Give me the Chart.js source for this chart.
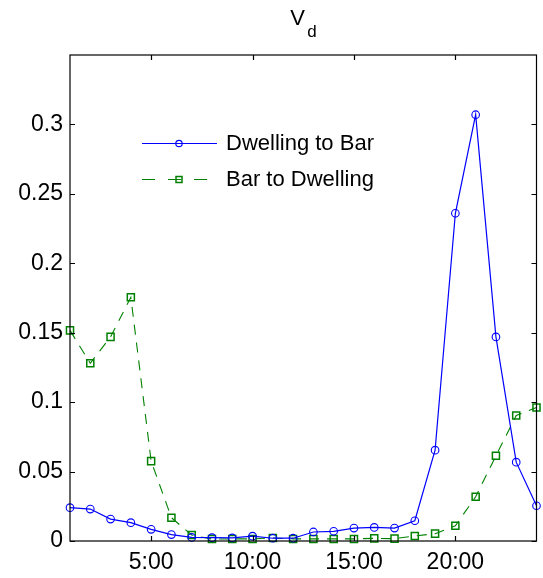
<!DOCTYPE html>
<html>
<head>
<meta charset="utf-8">
<script src="https://cdn.jsdelivr.net/npm/chart.js@4/dist/chart.umd.min.js"></script>
<style>
html,body{margin:0;padding:0;background:#fff;}
#wrap{width:543px;height:578px;position:relative;}
</style>
</head>
<body>
<div id="wrap"><canvas id="c" width="543" height="578"></canvas></div>
<script>
const hours = [1,2,3,4,5,6,7,8,9,10,11,12,13,14,15,16,17,18,19,20,21,22,23,24];
const dwellingToBar = [0.024,0.023,0.0158,0.0132,0.0084,0.0046,0.0026,0.0024,0.0022,0.0035,0.002,0.002,0.0065,0.007,0.0093,0.0098,0.0093,0.0146,0.0654,0.236,0.307,0.147,0.0568,0.0254];
const barToDwelling = [0.1517,0.128,0.147,0.1755,0.0575,0.0168,0.0043,0.0014,0.0015,0.0015,0.0022,0.0015,0.0015,0.0015,0.0015,0.0019,0.0017,0.0036,0.0053,0.011,0.0319,0.0614,0.0904,0.0962];
const xTicks = [5,10,15,20];
const yTicks = [0,0.05,0.1,0.15,0.2,0.25,0.3];
const seriesNames = ['Dwelling to Bar','Bar to Dwelling'];
const titleMain = 'V';
const titleSub = 'd';

const FONT = '"Liberation Sans", Arial, sans-serif';
const BLUE = '#0000ff';
const GREEN = '#008000';

const boxPlugin = {
  id: 'boxPlugin',
  afterDraw(chart) {
    const ctx = chart.ctx;
    const a = chart.chartArea;
    const xs = chart.scales.x, ys = chart.scales.y;
    ctx.save();
    ctx.strokeStyle = '#000';
    ctx.lineWidth = 1.2;
    ctx.strokeRect(a.left, a.top, a.right - a.left, a.bottom - a.top);
    ctx.lineWidth = 1.2;
    const tl = 5;
    ctx.beginPath();
    xs.ticks.forEach(t => {
      const px = Math.round(xs.getPixelForValue(t.value)) + 0.5;
      ctx.moveTo(px, a.bottom); ctx.lineTo(px, a.bottom - tl);
      ctx.moveTo(px, a.top); ctx.lineTo(px, a.top + tl);
    });
    ys.ticks.forEach(t => {
      const py = Math.round(ys.getPixelForValue(t.value)) + 0.5;
      ctx.moveTo(a.left, py); ctx.lineTo(a.left + tl, py);
      ctx.moveTo(a.right, py); ctx.lineTo(a.right - tl, py);
    });
    ctx.stroke();

    // title
    ctx.fillStyle = '#000';
    ctx.textBaseline = 'alphabetic';
    ctx.textAlign = 'left';
    ctx.font = '22px ' + FONT;
    const cx = (a.left + a.right) / 2;
    ctx.fillText(titleMain, cx - 13, 25);
    ctx.font = '17px ' + FONT;
    ctx.fillText(titleSub, cx + 4, 37);

    // legend
    const rows = [
      {y: 143, color: BLUE, dash: [], style: 'circle', label: seriesNames[0]},
      {y: 179, color: GREEN, dash: [13, 13], style: 'rect', label: seriesNames[1]}
    ];
    rows.forEach(r => {
      ctx.strokeStyle = r.color;
      ctx.lineWidth = 1.2;
      ctx.setLineDash(r.dash);
      ctx.beginPath();
      ctx.moveTo(142, r.y + 0.5); ctx.lineTo(217, r.y + 0.5);
      ctx.stroke();
      ctx.setLineDash([]);
      ctx.beginPath();
      if (r.style === 'circle') {
        ctx.fillStyle = '#fff';
        ctx.arc(179, r.y + 0.5, 3.2, 0, Math.PI * 2);
        ctx.stroke();
      } else {
        ctx.lineWidth = 1.5;
        ctx.strokeRect(176, r.y - 2.5, 6, 6);
      }
      ctx.fillStyle = '#000';
      ctx.font = '22px ' + FONT;
      ctx.textBaseline = 'middle';
      ctx.fillText(r.label, 226, r.y + 1);
    });
    ctx.restore();
  }
};

new Chart(document.getElementById('c'), {
  type: 'line',
  data: {
    datasets: [
      {
        label: seriesNames[0],
        data: hours.map((h, i) => ({x: h, y: dwellingToBar[i]})),
        borderColor: BLUE,
        borderWidth: 1.2,
        pointStyle: 'circle',
        pointRadius: 3.8,
        pointBorderColor: BLUE,
        pointBorderWidth: 1.1,
        pointBackgroundColor: 'rgba(0,0,0,0)',
        tension: 0,
        clip: false,
        order: 1
      },
      {
        label: seriesNames[1],
        data: hours.map((h, i) => ({x: h, y: barToDwelling[i]})),
        borderColor: GREEN,
        borderWidth: 1.1,
        borderDash: [10, 8],
        pointStyle: 'rect',
        pointRadius: 5,
        pointBorderColor: GREEN,
        pointBorderWidth: 1.5,
        pointBackgroundColor: 'rgba(0,0,0,0)',
        tension: 0,
        clip: false,
        order: 2
      }
    ]
  },
  options: {
    responsive: false,
    animation: false,
    devicePixelRatio: 1,
    layout: {padding: {top: 55, right: 3, left: 0, bottom: 0}},
    plugins: {legend: {display: false}, title: {display: false}, tooltip: {enabled: false}},
    scales: {
      x: {
        type: 'linear',
        min: 1, max: 24,
        afterBuildTicks: s => { s.ticks = xTicks.map(v => ({value: v})); },
        afterFit: s => { s.height = 37; },
        grid: {display: false, drawTicks: false},
        border: {display: false},
        ticks: {
          color: '#000',
          font: {family: FONT, size: 23},
          padding: 8,
          maxRotation: 0,
          callback: v => v + ':00'
        }
      },
      y: {
        type: 'linear',
        min: 0, max: 0.35,
        afterBuildTicks: s => { s.ticks = yTicks.map(v => ({value: v})); },
        afterFit: s => { s.width = 70; },
        grid: {display: false, drawTicks: false},
        border: {display: false},
        ticks: {
          color: '#000',
          font: {family: FONT, size: 23},
          padding: 7,
          callback: v => String(parseFloat(v.toFixed(2)))
        }
      }
    }
  },
  plugins: [boxPlugin]
});
</script>
</body>
</html>
